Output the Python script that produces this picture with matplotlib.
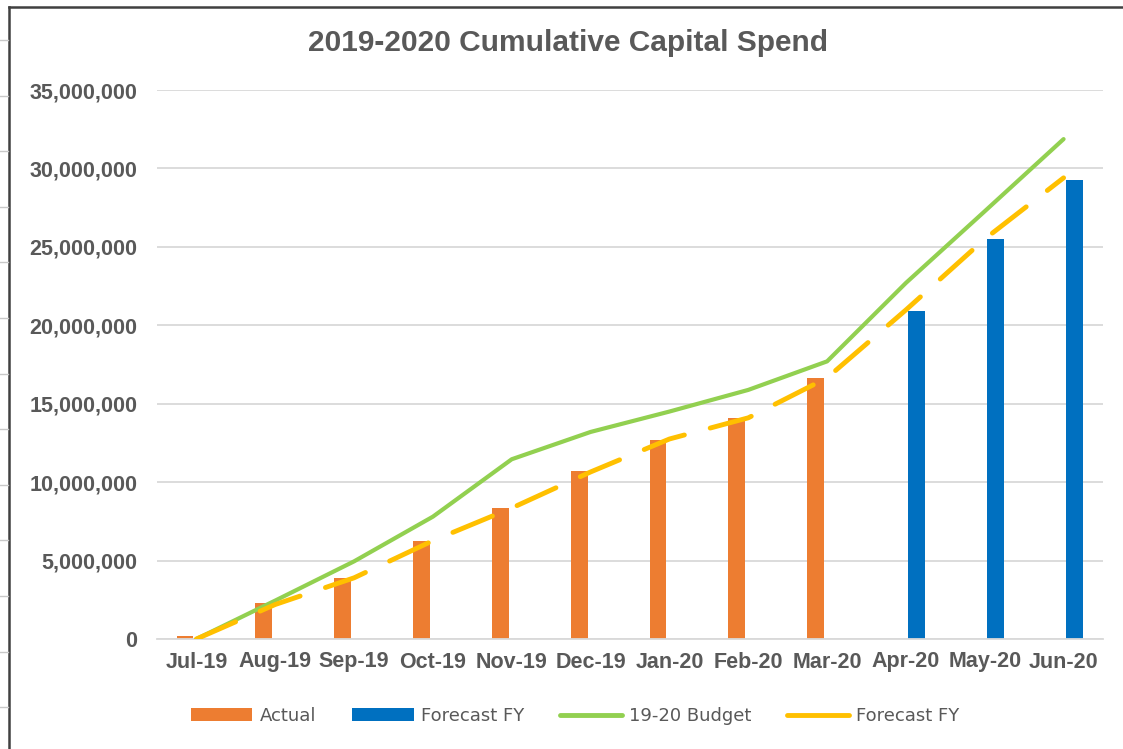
import numpy as np
import matplotlib
matplotlib.use("Agg")
import matplotlib.pyplot as plt
from matplotlib.lines import Line2D
from matplotlib.patches import Patch
from matplotlib.ticker import FuncFormatter

months = ["Jul-19", "Aug-19", "Sep-19", "Oct-19", "Nov-19", "Dec-19",
          "Jan-20", "Feb-20", "Mar-20", "Apr-20", "May-20", "Jun-20"]
nan = np.nan
actual = [200000, 2280000, 3870000, 6250000, 8340000, 10730000,
          12700000, 14070000, 16670000, nan, nan, nan]
forecast_bars = [nan, nan, nan, nan, nan, nan,
                 nan, nan, nan, 20940000, 25490000, 29270000]
budget = [0, 2450000, 4950000, 7800000, 11460000, 13200000,
          14500000, 15880000, 17700000, 22700000, 27270000, 31870000]
forecast_line = [0, 2200000, 3900000, 6270000, 8350000, 10650000,
                 12750000, 14100000, 16650000, 20980000, 25500000, 29400000]

W, H = 1123, 749
GREY = "#595959"
ORANGE = "#ED7D31"
BLUE = "#0070C0"
GREEN = "#92D050"
YELLOW = "#FFC000"

plt.rcParams["font.family"] = ["Liberation Sans", "DejaVu Sans"]

fig = plt.figure(figsize=(W / 100, H / 100), dpi=100)
fig.patch.set_facecolor("white")

# plot area in pixels: x 157..1103, y 90..639
ax = fig.add_axes([157 / W, (H - 639) / H, 946 / W, 549 / H])

x = np.arange(len(months))
bw = 0.215
ax.bar(x - 0.145, actual, width=bw, color=ORANGE, zorder=2)
ax.bar(x + 0.14, forecast_bars, width=bw, color=BLUE, zorder=2)
ax.plot(x, budget, color=GREEN, lw=3, solid_capstyle="round", zorder=3)
ax.plot(x, forecast_line, color=YELLOW, lw=3.5, dashes=(8.8, 5.5),
        dash_capstyle="round", zorder=4)

ax.set_xlim(-0.5, len(months) - 0.5)
ax.set_ylim(0, 35000000)
ax.set_yticks(np.arange(0, 35000001, 5000000))
ax.yaxis.set_major_formatter(FuncFormatter(lambda v, p: f"{int(v):,}"))
ax.set_xticks(x)
ax.set_xticklabels(months)
ax.grid(axis="y", color="#d9d9d9", lw=1.3, zorder=0)
ax.set_axisbelow(True)
for s in ["top", "right", "left"]:
    ax.spines[s].set_visible(False)
ax.spines["bottom"].set_color("#d9d9d9")
ax.spines["bottom"].set_linewidth(1.3)
ax.tick_params(length=0, labelsize=15.5, labelcolor=GREY)
ax.tick_params(axis="y", pad=14)
ax.tick_params(axis="x", pad=9)
for lab in ax.get_xticklabels() + ax.get_yticklabels():
    lab.set_fontweight("bold")

fig.text(568 / W, 1 - 43 / H, "2019-2020 Cumulative Capital Spend",
         ha="center", va="center", fontsize=21.5, fontweight="bold", color=GREY)

handles = [
    Patch(facecolor=ORANGE, label="Actual"),
    Patch(facecolor=BLUE, label="Forecast FY"),
    Line2D([], [], color=GREEN, lw=3.5, solid_capstyle="round", label="19-20 Budget"),
    Line2D([], [], color=YELLOW, lw=3.5, solid_capstyle="round", label="Forecast FY"),
]
leg = fig.legend(handles=handles, loc="center", bbox_to_anchor=(575 / W, 1 - 716 / H),
                 ncol=4, frameon=False, handlelength=3.4, handletextpad=0.4,
                 columnspacing=2.0, prop={"family": ["Liberation Sans Narrow", "DejaVu Sans"], "size": 13})
for t in leg.get_texts():
    t.set_color(GREY)

# screenshot frame: dark border on left and top, row marks at far left
fig.add_artist(Line2D([9 / W, 9 / W], [0, 1 - 7 / H], color="#404040", lw=1.8,
                      transform=fig.transFigure))
fig.add_artist(Line2D([9 / W, 1], [1 - 7 / H, 1 - 7 / H], color="#404040", lw=1.8,
                      transform=fig.transFigure))
for k in range(13):
    yy = 1 - (40 + 55.6 * k) / H
    fig.add_artist(Line2D([0, 8 / W], [yy, yy], color="#c8c8c8", lw=1,
                          transform=fig.transFigure))

fig.savefig("out.png", dpi=100)
